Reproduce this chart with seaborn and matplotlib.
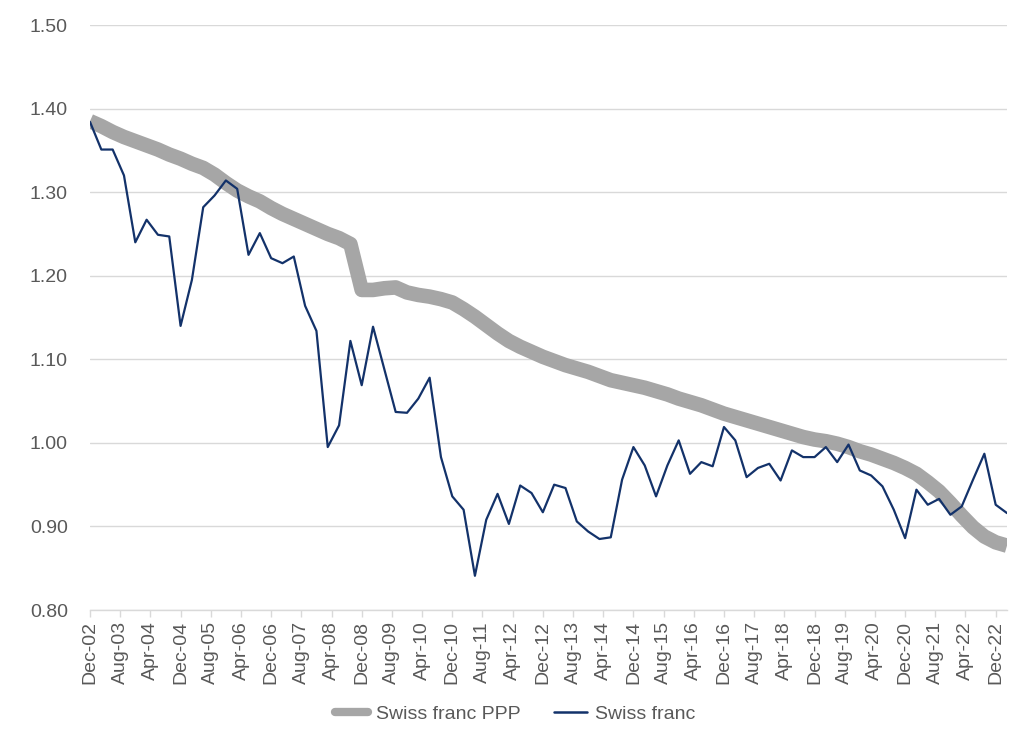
import numpy as np
import pandas as pd
import matplotlib
matplotlib.use("Agg")
import matplotlib.pyplot as plt
import seaborn as sns

# Quarterly observations, Dec-02 .. Mar-23
swiss_franc = [1.384, 1.351, 1.351, 1.320, 1.240, 1.267, 1.249, 1.247, 1.140, 1.195,
               1.282, 1.296, 1.314, 1.304, 1.225, 1.251, 1.221, 1.215, 1.223, 1.164,
               1.134, 0.995, 1.021, 1.122, 1.069, 1.139, 1.088, 1.037, 1.036, 1.053,
               1.078, 0.983, 0.936, 0.920, 0.841, 0.908, 0.939, 0.903, 0.949, 0.940,
               0.917, 0.950, 0.946, 0.906, 0.894, 0.885, 0.887, 0.956, 0.995, 0.973,
               0.936, 0.973, 1.003, 0.963, 0.977, 0.972, 1.019, 1.003, 0.959, 0.970,
               0.975, 0.955, 0.991, 0.983, 0.983, 0.995, 0.977, 0.998, 0.967, 0.961,
               0.948, 0.920, 0.886, 0.944, 0.926, 0.933, 0.914, 0.924, 0.956, 0.987,
               0.926, 0.916]
swiss_franc_ppp = [1.385, 1.379, 1.372, 1.366, 1.361, 1.356, 1.351, 1.345, 1.340, 1.334,
                   1.329, 1.321, 1.311, 1.302, 1.295, 1.289, 1.281, 1.274, 1.268, 1.262,
                   1.256, 1.250, 1.245, 1.238, 1.183, 1.183, 1.185, 1.186, 1.180, 1.177,
                   1.175, 1.172, 1.168, 1.160, 1.151, 1.141, 1.131, 1.122, 1.115, 1.109,
                   1.103, 1.098, 1.093, 1.089, 1.085, 1.080, 1.075, 1.072, 1.069, 1.066,
                   1.062, 1.058, 1.053, 1.049, 1.045, 1.040, 1.035, 1.031, 1.027, 1.023,
                   1.019, 1.015, 1.011, 1.007, 1.004, 1.002, 0.999, 0.995, 0.990, 0.986,
                   0.981, 0.976, 0.970, 0.963, 0.953, 0.942, 0.928, 0.913, 0.899, 0.888,
                   0.881, 0.877]
tick_labels = ["Dec-02", "Aug-03", "Apr-04", "Dec-04", "Aug-05", "Apr-06", "Dec-06",
               "Aug-07", "Apr-08", "Dec-08", "Aug-09", "Apr-10", "Dec-10", "Aug-11",
               "Apr-12", "Dec-12", "Aug-13", "Apr-14", "Dec-14", "Aug-15", "Apr-16",
               "Dec-16", "Aug-17", "Apr-18", "Dec-18", "Aug-19", "Apr-20", "Dec-20",
               "Aug-21", "Apr-22", "Dec-22"]
y_ticks = [0.80, 0.90, 1.00, 1.10, 1.20, 1.30, 1.40, 1.50]

months = np.arange(len(swiss_franc)) * 3  # months since Dec-02
df = pd.DataFrame({"month": months, "Swiss franc PPP": swiss_franc_ppp,
                   "Swiss franc": swiss_franc})

sns.set_theme(style="white")
plt.rcParams['font.family'] = ['Liberation Sans', 'DejaVu Sans']

fig = plt.figure(figsize=(10.24, 7.51), dpi=100)
ax = fig.add_axes([0.0879, 0.1877, 0.8955, 0.779])

grey = "#A6A6A6"
navy = "#13326A"
sns.lineplot(data=df, x="month", y="Swiss franc PPP", ax=ax, color=grey,
             linewidth=10.5, label="Swiss franc PPP", solid_capstyle="butt")
sns.lineplot(data=df, x="month", y="Swiss franc", ax=ax, color=navy,
             linewidth=1.6, label="Swiss franc")

ax.set_xlim(0, 243)
ax.set_ylim(0.80, 1.50)
ax.set_yticks(y_ticks)
ax.set_yticklabels([f"{v:.2f}" for v in y_ticks])
ax.set_xticks(np.arange(len(tick_labels)) * 8)
ax.set_xticklabels(tick_labels, rotation=90)
ax.set_xlabel("")
ax.set_ylabel("")

ax.yaxis.grid(True, color="#D9D9D9", linewidth=1)
ax.set_axisbelow(True)
for s in ["top", "right", "left"]:
    ax.spines[s].set_visible(False)
ax.spines["bottom"].set_color("#D9D9D9")
ax.spines["bottom"].set_linewidth(1)

ax.tick_params(axis="y", length=0, pad=16, labelsize=14, labelcolor="#595959")
ax.tick_params(axis="x", length=5, width=1, color="#D9D9D9", pad=3,
               labelsize=14, labelcolor="#595959", bottom=True)

leg = ax.legend(loc="center", bbox_to_anchor=(0.503, 0.049),
                bbox_transform=fig.transFigure, ncol=2,
                frameon=False, fontsize=14, handlelength=1.7, columnspacing=1.7,
                handletextpad=0.4)
for t in leg.get_texts():
    t.set_color("#595959")
h0 = leg.legend_handles[0]
h0.set_linewidth(6)
h0.set_solid_capstyle("round")
leg.legend_handles[1].set_linewidth(1.8)

fig.savefig("out.png", dpi=100)
